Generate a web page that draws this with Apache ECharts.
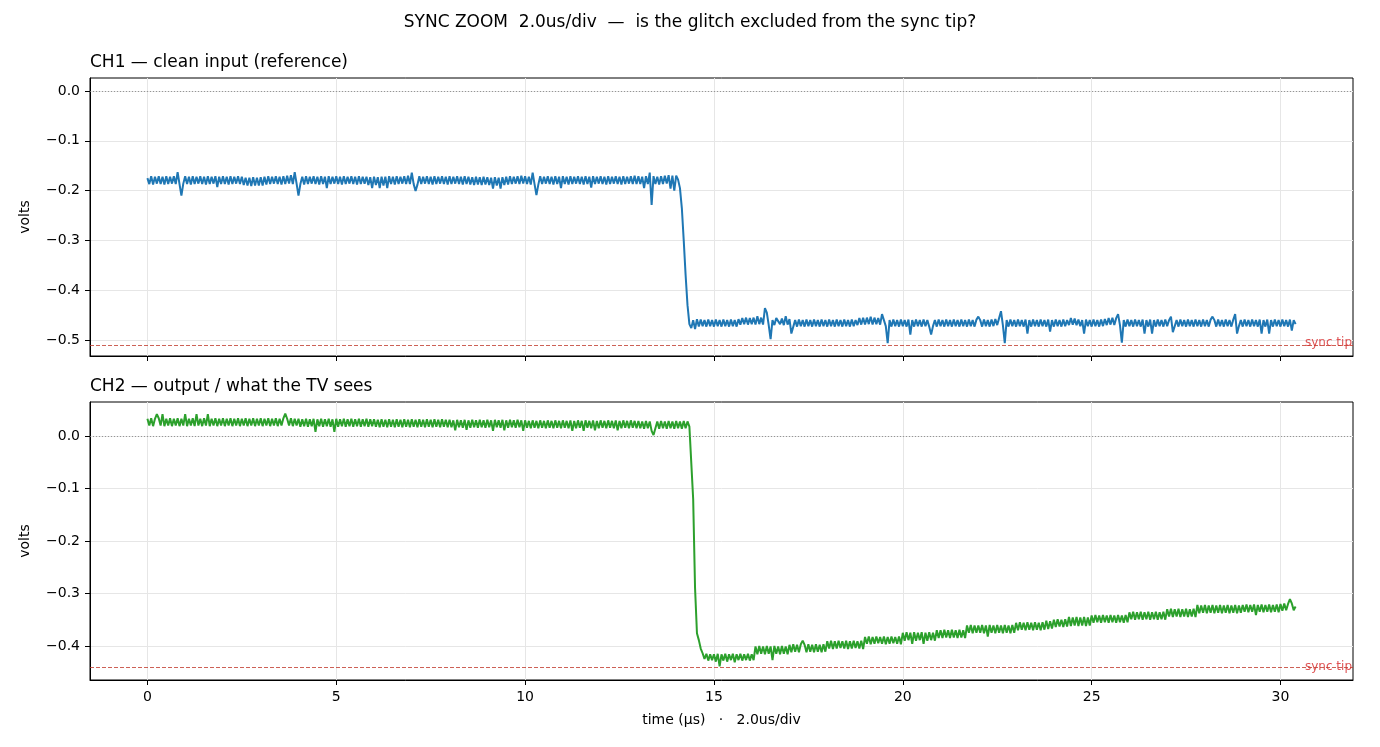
<!DOCTYPE html>
<html>
<head>
<meta charset="utf-8">
<title>sync zoom</title>
<script src="https://cdn.jsdelivr.net/npm/echarts@6/dist/echarts.min.js"></script>
<style>
    html, body {margin: 0; padding: 0; background: #fff;}
    #scope {width: 1380px; height: 747px;}
</style>
</head>
<body>
<div id="scope"></div>
<script>
// one sample every 0.05 us, starting at t = 0 (one row = 1 us)
var SAMPLE_US = 0.05;

// CH1 - clean input, volts
var ch1Volts = [
    -0.175,-0.187,-0.171,-0.188,-0.172,-0.186,-0.171,-0.187,-0.172,-0.188,-0.171,-0.187,-0.172,-0.186,-0.171,-0.187,-0.163,-0.187,-0.210,-0.186,
    -0.171,-0.187,-0.172,-0.188,-0.171,-0.187,-0.172,-0.186,-0.171,-0.187,-0.172,-0.188,-0.171,-0.187,-0.172,-0.186,-0.171,-0.193,-0.172,-0.187,
    -0.171,-0.187,-0.172,-0.188,-0.171,-0.187,-0.172,-0.186,-0.171,-0.187,-0.172,-0.189,-0.174,-0.190,-0.174,-0.191,-0.173,-0.190,-0.174,-0.190,
    -0.173,-0.190,-0.172,-0.188,-0.171,-0.187,-0.172,-0.186,-0.171,-0.187,-0.172,-0.188,-0.171,-0.187,-0.170,-0.186,-0.169,-0.187,-0.163,-0.186,
    -0.210,-0.187,-0.172,-0.188,-0.171,-0.187,-0.172,-0.186,-0.171,-0.187,-0.172,-0.188,-0.171,-0.187,-0.172,-0.195,-0.171,-0.187,-0.172,-0.186,
    -0.171,-0.187,-0.172,-0.188,-0.171,-0.187,-0.172,-0.186,-0.171,-0.187,-0.172,-0.188,-0.171,-0.187,-0.172,-0.186,-0.172,-0.189,-0.173,-0.195,
    -0.172,-0.189,-0.173,-0.195,-0.172,-0.190,-0.172,-0.195,-0.171,-0.187,-0.172,-0.188,-0.171,-0.187,-0.172,-0.186,-0.171,-0.187,-0.170,-0.187,
    -0.164,-0.187,-0.201,-0.188,-0.171,-0.187,-0.172,-0.186,-0.171,-0.187,-0.172,-0.188,-0.171,-0.187,-0.172,-0.186,-0.171,-0.187,-0.172,-0.188,
    -0.171,-0.187,-0.172,-0.186,-0.171,-0.187,-0.172,-0.188,-0.171,-0.187,-0.172,-0.188,-0.173,-0.189,-0.172,-0.188,-0.173,-0.189,-0.172,-0.188,
    -0.173,-0.189,-0.174,-0.196,-0.173,-0.190,-0.174,-0.196,-0.173,-0.189,-0.172,-0.188,-0.171,-0.187,-0.172,-0.186,-0.171,-0.187,-0.170,-0.186,
    -0.171,-0.187,-0.172,-0.188,-0.164,-0.187,-0.209,-0.188,-0.171,-0.187,-0.172,-0.186,-0.171,-0.187,-0.172,-0.188,-0.171,-0.187,-0.172,-0.195,
    -0.171,-0.187,-0.172,-0.188,-0.171,-0.187,-0.172,-0.186,-0.171,-0.187,-0.172,-0.188,-0.171,-0.187,-0.172,-0.194,-0.171,-0.187,-0.172,-0.186,
    -0.171,-0.187,-0.172,-0.188,-0.171,-0.187,-0.172,-0.186,-0.171,-0.187,-0.172,-0.188,-0.171,-0.187,-0.172,-0.186,-0.171,-0.187,-0.170,-0.187,
    -0.171,-0.187,-0.172,-0.195,-0.171,-0.187,-0.164,-0.229,-0.171,-0.187,-0.172,-0.188,-0.171,-0.187,-0.170,-0.186,-0.169,-0.196,-0.170,-0.200,
    -0.170,-0.178,-0.195,-0.235,-0.300,-0.370,-0.430,-0.468,-0.476,-0.460,-0.478,-0.458,-0.473,-0.459,-0.472,-0.460,-0.473,-0.459,-0.472,-0.460,
    -0.473,-0.459,-0.472,-0.460,-0.473,-0.459,-0.472,-0.460,-0.473,-0.459,-0.472,-0.460,-0.473,-0.458,-0.469,-0.456,-0.468,-0.455,-0.469,-0.456,
    -0.468,-0.455,-0.469,-0.452,-0.468,-0.455,-0.469,-0.436,-0.445,-0.470,-0.498,-0.460,-0.470,-0.456,-0.452,-0.468,-0.457,-0.470,-0.452,-0.469,
    -0.458,-0.487,-0.486,-0.460,-0.473,-0.459,-0.472,-0.460,-0.473,-0.459,-0.472,-0.460,-0.473,-0.459,-0.472,-0.460,-0.473,-0.459,-0.472,-0.460,
    -0.473,-0.459,-0.472,-0.460,-0.473,-0.459,-0.472,-0.460,-0.473,-0.459,-0.472,-0.460,-0.473,-0.459,-0.472,-0.460,-0.470,-0.456,-0.469,-0.455,
    -0.469,-0.455,-0.468,-0.453,-0.469,-0.455,-0.468,-0.456,-0.469,-0.448,-0.445,-0.472,-0.506,-0.460,-0.473,-0.459,-0.472,-0.460,-0.473,-0.459,
    -0.472,-0.460,-0.473,-0.459,-0.489,-0.460,-0.473,-0.459,-0.472,-0.460,-0.473,-0.459,-0.472,-0.460,-0.473,-0.489,-0.472,-0.460,-0.473,-0.459,
    -0.472,-0.460,-0.473,-0.459,-0.472,-0.460,-0.473,-0.459,-0.472,-0.460,-0.473,-0.459,-0.472,-0.460,-0.473,-0.459,-0.472,-0.460,-0.473,-0.459,
    -0.453,-0.460,-0.473,-0.459,-0.472,-0.460,-0.473,-0.459,-0.472,-0.458,-0.470,-0.456,-0.442,-0.470,-0.506,-0.460,-0.473,-0.459,-0.472,-0.460,
    -0.473,-0.459,-0.472,-0.460,-0.473,-0.459,-0.487,-0.460,-0.473,-0.459,-0.472,-0.460,-0.473,-0.459,-0.472,-0.460,-0.473,-0.459,-0.483,-0.460,
    -0.473,-0.459,-0.472,-0.460,-0.473,-0.459,-0.472,-0.460,-0.470,-0.456,-0.469,-0.457,-0.470,-0.459,-0.472,-0.460,-0.487,-0.459,-0.472,-0.460,
    -0.473,-0.459,-0.472,-0.460,-0.473,-0.459,-0.472,-0.458,-0.470,-0.456,-0.469,-0.455,-0.470,-0.456,-0.448,-0.470,-0.505,-0.460,-0.473,-0.459,
    -0.472,-0.460,-0.473,-0.459,-0.472,-0.460,-0.473,-0.459,-0.487,-0.460,-0.473,-0.459,-0.487,-0.460,-0.473,-0.459,-0.472,-0.460,-0.473,-0.459,
    -0.472,-0.460,-0.453,-0.484,-0.472,-0.460,-0.473,-0.459,-0.472,-0.460,-0.473,-0.459,-0.472,-0.460,-0.473,-0.459,-0.472,-0.460,-0.473,-0.459,
    -0.472,-0.460,-0.473,-0.459,-0.453,-0.460,-0.473,-0.459,-0.472,-0.460,-0.473,-0.459,-0.472,-0.460,-0.473,-0.459,-0.448,-0.487,-0.472,-0.460,
    -0.473,-0.459,-0.472,-0.460,-0.473,-0.459,-0.472,-0.460,-0.473,-0.459,-0.487,-0.460,-0.473,-0.459,-0.487,-0.460,-0.473,-0.459,-0.472,-0.460,
    -0.473,-0.459,-0.472,-0.460,-0.473,-0.459,-0.481,-0.460,-0.468
];

// CH2 - output / what the TV sees, volts
var ch2Volts = [
    0.033,0.020,0.034,0.019,0.033,0.042,0.034,0.020,0.042,0.019,0.033,0.020,0.034,0.019,0.033,0.020,0.034,0.019,0.033,0.020,
    0.042,0.019,0.033,0.020,0.034,0.019,0.042,0.020,0.033,0.019,0.034,0.020,0.042,0.019,0.033,0.020,0.034,0.019,0.033,0.020,
    0.034,0.019,0.033,0.020,0.034,0.019,0.033,0.020,0.034,0.019,0.033,0.020,0.034,0.019,0.033,0.020,0.034,0.019,0.033,0.020,
    0.034,0.019,0.033,0.020,0.034,0.019,0.033,0.020,0.034,0.019,0.033,0.020,0.034,0.043,0.033,0.020,0.034,0.019,0.033,0.020,
    0.033,0.018,0.032,0.019,0.033,0.018,0.032,0.019,0.033,0.008,0.032,0.019,0.033,0.018,0.032,0.019,0.033,0.018,0.032,0.008,
    0.033,0.018,0.032,0.019,0.033,0.018,0.032,0.019,0.033,0.018,0.032,0.019,0.033,0.018,0.032,0.019,0.033,0.018,0.032,0.019,
    0.032,0.018,0.031,0.017,0.032,0.018,0.031,0.017,0.032,0.018,0.031,0.017,0.032,0.018,0.031,0.017,0.032,0.018,0.031,0.017,
    0.032,0.018,0.031,0.017,0.032,0.018,0.031,0.017,0.032,0.018,0.031,0.017,0.032,0.018,0.031,0.017,0.032,0.018,0.031,0.017,
    0.031,0.017,0.030,0.011,0.031,0.017,0.030,0.016,0.031,0.012,0.030,0.016,0.031,0.017,0.030,0.016,0.031,0.017,0.030,0.016,
    0.031,0.017,0.030,0.010,0.031,0.017,0.030,0.016,0.031,0.011,0.030,0.016,0.031,0.017,0.030,0.016,0.031,0.017,0.030,0.010,
    0.030,0.016,0.029,0.015,0.030,0.016,0.029,0.015,0.030,0.016,0.029,0.015,0.030,0.016,0.029,0.015,0.030,0.016,0.029,0.015,
    0.030,0.016,0.029,0.015,0.030,0.010,0.029,0.015,0.030,0.016,0.029,0.010,0.030,0.016,0.029,0.015,0.030,0.011,0.029,0.015,
    0.030,0.016,0.029,0.015,0.030,0.016,0.029,0.015,0.030,0.011,0.029,0.015,0.030,0.016,0.029,0.015,0.030,0.016,0.029,0.015,
    0.029,0.015,0.028,0.014,0.029,0.015,0.028,0.010,0.002,0.015,0.028,0.014,0.029,0.015,0.028,0.014,0.029,0.015,0.028,0.014,
    0.029,0.015,0.028,0.014,0.029,0.015,0.028,0.018,0.020,-0.120,-0.290,-0.376,-0.389,-0.405,-0.414,-0.425,-0.415,-0.428,-0.416,-0.427,
    -0.416,-0.430,-0.415,-0.439,-0.416,-0.428,-0.415,-0.430,-0.416,-0.427,-0.415,-0.431,-0.416,-0.427,-0.415,-0.428,-0.416,-0.427,-0.415,-0.428,
    -0.416,-0.427,-0.401,-0.416,-0.400,-0.415,-0.401,-0.416,-0.400,-0.415,-0.401,-0.427,-0.400,-0.415,-0.401,-0.416,-0.400,-0.415,-0.401,-0.416,
    -0.398,-0.412,-0.397,-0.411,-0.398,-0.412,-0.397,-0.390,-0.398,-0.412,-0.397,-0.411,-0.398,-0.412,-0.397,-0.411,-0.398,-0.412,-0.397,-0.411,
    -0.391,-0.405,-0.390,-0.406,-0.391,-0.405,-0.390,-0.404,-0.391,-0.405,-0.390,-0.406,-0.391,-0.405,-0.390,-0.404,-0.391,-0.405,-0.390,-0.406,
    -0.383,-0.396,-0.382,-0.397,-0.383,-0.396,-0.382,-0.395,-0.383,-0.396,-0.382,-0.397,-0.383,-0.396,-0.382,-0.395,-0.383,-0.396,-0.382,-0.397,
    -0.375,-0.390,-0.374,-0.389,-0.375,-0.396,-0.374,-0.390,-0.375,-0.389,-0.374,-0.396,-0.375,-0.390,-0.374,-0.389,-0.375,-0.390,-0.370,-0.385,
    -0.370,-0.385,-0.369,-0.384,-0.370,-0.385,-0.369,-0.384,-0.370,-0.385,-0.369,-0.384,-0.370,-0.385,-0.361,-0.375,-0.360,-0.376,-0.361,-0.375,
    -0.361,-0.375,-0.360,-0.376,-0.361,-0.382,-0.360,-0.375,-0.361,-0.376,-0.360,-0.375,-0.361,-0.376,-0.360,-0.375,-0.361,-0.376,-0.360,-0.375,
    -0.356,-0.370,-0.355,-0.369,-0.356,-0.370,-0.355,-0.369,-0.356,-0.370,-0.355,-0.369,-0.356,-0.370,-0.355,-0.369,-0.352,-0.368,-0.353,-0.367,
    -0.350,-0.364,-0.349,-0.363,-0.350,-0.364,-0.349,-0.363,-0.345,-0.362,-0.346,-0.361,-0.345,-0.362,-0.346,-0.361,-0.345,-0.362,-0.346,-0.361,
    -0.342,-0.356,-0.341,-0.355,-0.342,-0.356,-0.341,-0.355,-0.342,-0.356,-0.341,-0.355,-0.342,-0.356,-0.341,-0.355,-0.342,-0.356,-0.341,-0.355,
    -0.336,-0.349,-0.335,-0.350,-0.336,-0.349,-0.335,-0.350,-0.336,-0.349,-0.335,-0.350,-0.336,-0.349,-0.335,-0.350,-0.336,-0.349,-0.335,-0.350,
    -0.330,-0.344,-0.329,-0.345,-0.330,-0.344,-0.329,-0.345,-0.330,-0.344,-0.329,-0.345,-0.330,-0.344,-0.329,-0.345,-0.322,-0.338,-0.323,-0.337,
    -0.322,-0.338,-0.323,-0.337,-0.322,-0.338,-0.323,-0.337,-0.322,-0.338,-0.323,-0.337,-0.322,-0.338,-0.323,-0.337,-0.322,-0.338,-0.323,-0.337,
    -0.322,-0.335,-0.321,-0.336,-0.322,-0.335,-0.321,-0.341,-0.322,-0.335,-0.321,-0.336,-0.322,-0.335,-0.321,-0.336,-0.322,-0.335,-0.321,-0.336,
    -0.320,-0.333,-0.319,-0.332,-0.320,-0.311,-0.319,-0.332,-0.325
];

// sync tip levels, volts
var ch1SyncTip = -0.506;
var ch2SyncTip = -0.44;

// axis ticks and limits
var timeTicks = [0, 5, 10, 15, 20, 25, 30];
var ch1Ticks = [-0.5, -0.4, -0.3, -0.2, -0.1, 0.0];
var ch2Ticks = [-0.4, -0.3, -0.2, -0.1, 0.0];
var timeRange = [-1.52, 31.92];
var ch1Range = [-0.532, 0.026];
var ch2Range = [-0.465, 0.065];

var FONT = 'DejaVu Sans';

function toPairs(volts) {
    var out = [];
    for (var i = 0; i < volts.length; i++) {
        out.push([Math.round(i * SAMPLE_US * 100) / 100, volts[i]]);
    }
    return out;
}

function fmtVolt(v) {
    return v.toFixed(1).replace('-', '\u2212');
}

function xAxisFor(gridIndex, withLabels) {
    return {
        type: 'value',
        gridIndex: gridIndex,
        min: timeRange[0],
        max: timeRange[1],
        name: withLabels ? 'time (\u00b5s)   \u00b7   2.0us/div' : '',
        nameLocation: 'middle',
        nameGap: 33,
        nameTextStyle: {fontFamily: FONT, fontSize: 14, color: '#000'},
        axisLine: {show: true, onZero: false, lineStyle: {color: '#000', width: 1}},
        axisTick: {show: true, length: 5, customValues: timeTicks, lineStyle: {color: '#000'}},
        axisLabel: {
            show: withLabels, customValues: timeTicks, margin: 10,
            fontFamily: FONT, fontSize: 14, color: '#000'
        },
        splitLine: {show: true, lineStyle: {color: '#e6e6e6', width: 1}}
    };
}

function yAxisFor(gridIndex, range, ticks) {
    return {
        type: 'value',
        gridIndex: gridIndex,
        min: range[0],
        max: range[1],
        name: 'volts',
        nameLocation: 'middle',
        nameGap: 58,
        nameTextStyle: {fontFamily: FONT, fontSize: 14, color: '#000'},
        axisLine: {show: true, onZero: false, lineStyle: {color: '#000', width: 1}},
        axisTick: {show: true, length: 5, customValues: ticks, lineStyle: {color: '#000'}},
        axisLabel: {
            customValues: ticks, margin: 10, formatter: fmtVolt,
            fontFamily: FONT, fontSize: 14, color: '#000'
        },
        splitLine: {show: true, lineStyle: {color: '#e6e6e6', width: 1}}
    };
}

function traceSeries(idx, volts, color, syncTip) {
    return {
        type: 'line',
        xAxisIndex: idx,
        yAxisIndex: idx,
        data: toPairs(volts),
        showSymbol: false,
        symbol: 'none',
        lineStyle: {color: color, width: 2},
        z: 3,
        markLine: {
            silent: true,
            symbol: ['none', 'none'],
            label: {show: false},
            animation: false,
            data: [
                {yAxis: 0, lineStyle: {type: [1, 2], color: '#808080', width: 0.8}},
                {yAxis: syncTip, lineStyle: {type: [4, 2], color: '#c0392b', width: 0.8}}
            ]
        }
    };
}

function tipLabel(idx, syncTip) {
    return {
        type: 'scatter',
        xAxisIndex: idx,
        yAxisIndex: idx,
        symbolSize: 0,
        clip: false,
        silent: true,
        data: [[timeRange[1], syncTip]],
        label: {
            show: true, position: 'left', distance: 1, formatter: 'sync tip',
            fontFamily: FONT, fontSize: 12, color: '#d62728'
        },
        z: 4
    };
}

var chart = echarts.init(document.getElementById('scope'));
chart.setOption({
    animation: false,
    backgroundColor: '#fff',
    textStyle: {fontFamily: FONT},
    title: [
        {
            text: 'SYNC ZOOM  2.0us/div  \u2014  is the glitch excluded from the sync tip?',
            left: 'center', top: 14, padding: 0,
            textStyle: {fontFamily: FONT, fontSize: 17, fontWeight: 'normal', color: '#000'}
        },
        {
            text: 'CH1 \u2014 clean input (reference)',
            left: 90, top: 54, padding: 0,
            textStyle: {fontFamily: FONT, fontSize: 17, fontWeight: 'normal', color: '#000'}
        },
        {
            text: 'CH2 \u2014 output / what the TV sees',
            left: 90, top: 378, padding: 0,
            textStyle: {fontFamily: FONT, fontSize: 17, fontWeight: 'normal', color: '#000'}
        }
    ],
    grid: [
        {left: 90, top: 78, width: 1263, height: 278, show: true, borderColor: '#000', borderWidth: 1, backgroundColor: '#fff'},
        {left: 90, top: 402, width: 1263, height: 278, show: true, borderColor: '#000', borderWidth: 1, backgroundColor: '#fff'}
    ],
    xAxis: [xAxisFor(0, false), xAxisFor(1, true)],
    yAxis: [yAxisFor(0, ch1Range, ch1Ticks), yAxisFor(1, ch2Range, ch2Ticks)],
    series: [
        traceSeries(0, ch1Volts, '#1f77b4', ch1SyncTip),
        traceSeries(1, ch2Volts, '#2ca02c', ch2SyncTip),
        tipLabel(0, ch1SyncTip),
        tipLabel(1, ch2SyncTip)
    ]
});
</script>
</body>
</html>
